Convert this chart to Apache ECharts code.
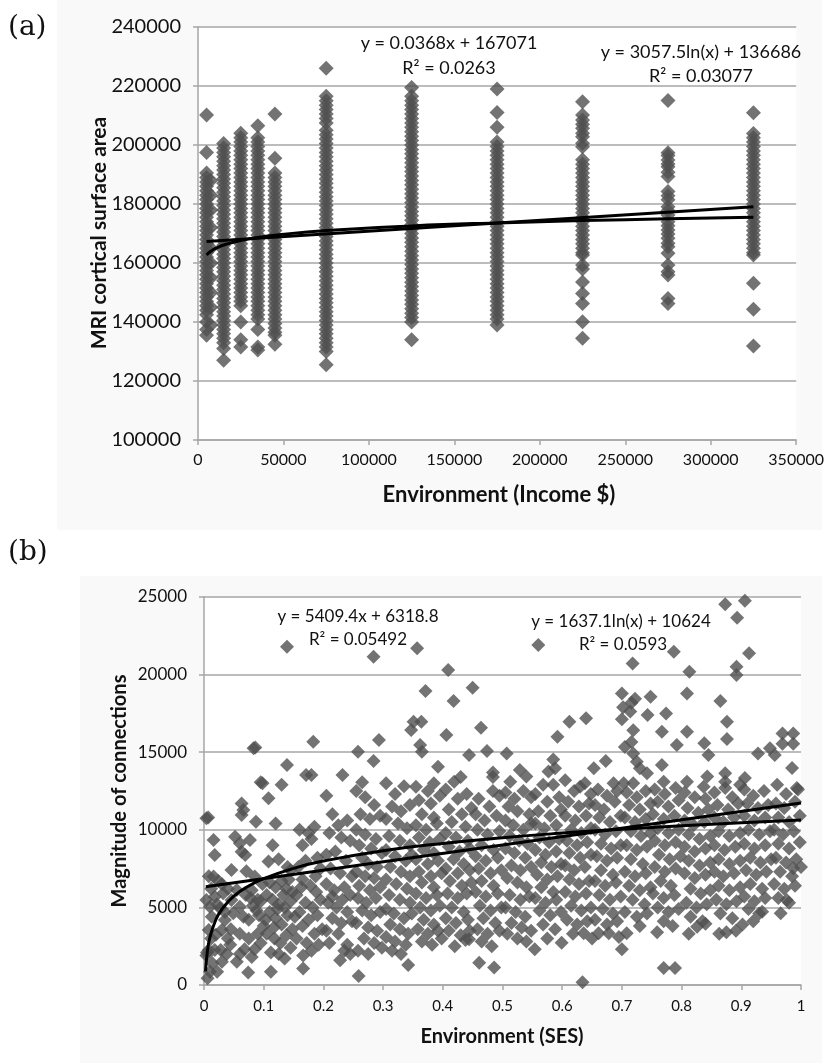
<!DOCTYPE html>
<html>
<head>
<meta charset="utf-8">
<script src="https://cdn.jsdelivr.net/npm/echarts@6/dist/echarts.min.js"></script>
<style>
html,body{margin:0;padding:0;background:#fff;}
#main{width:827px;height:1063px;}
</style>
</head>
<body>
<div id="main"></div>
<script>
// ---------- Panel (a): income vs cortical surface area ----------
const incomeLevels = [5000, 15000, 25000, 35000, 45000, 75000, 125000, 175000, 225000, 275000, 325000];
const area5k = [210200, 197500, 190500, 189000, 187500, 186000, 184500, 183000, 181500, 180000, 178500, 177000, 175500, 174000, 172500, 171000, 169500, 168000, 166500, 165000, 163500, 162000, 160500, 159000, 157500, 156000, 154500, 153000, 151500, 150000, 148500, 147000, 145500, 144000, 142500, 140000, 137500, 135500];
const area7k = [188000, 183000, 178000, 172000, 165000, 160000, 155000, 150000, 145000, 139000];
const area15k = [200500, 199000, 197500, 196000, 194500, 193000, 191500, 190000, 188500, 187000, 185500, 184000, 182500, 181000, 179500, 178000, 176500, 175000, 173500, 172000, 170500, 169000, 167500, 166000, 164500, 163000, 161500, 160000, 158500, 157000, 155500, 154000, 152500, 151000, 149500, 148000, 146500, 145000, 143500, 142000, 140500, 139000, 137500, 136000, 134500, 133000, 131000, 127000];
const area25k = [204000, 202500, 201000, 199500, 198000, 196500, 195000, 193500, 192000, 190500, 189000, 187500, 186000, 184500, 183000, 181500, 180000, 178500, 177000, 175500, 174000, 172500, 171000, 169500, 168000, 166500, 165000, 163500, 162000, 160500, 159000, 157500, 156000, 154500, 153000, 151500, 150000, 148500, 147000, 145500, 140000, 134000, 131500];
const area35k = [206500, 202500, 201000, 199500, 198000, 196500, 195000, 193500, 192000, 190500, 189000, 187500, 186000, 184500, 183000, 181500, 180000, 178500, 177000, 175500, 174000, 172500, 171000, 169500, 168000, 166500, 165000, 163500, 162000, 160500, 159000, 157500, 156000, 154500, 153000, 151500, 150000, 148500, 147000, 145500, 144000, 142500, 141000, 137500, 131500, 130500];
const area45k = [210500, 195500, 190500, 189000, 187500, 186000, 184500, 183000, 181500, 180000, 178500, 177000, 175500, 174000, 172500, 171000, 169500, 168000, 166500, 165000, 163500, 162000, 160500, 159000, 157500, 156000, 154500, 153000, 151500, 150000, 148500, 147000, 145500, 144000, 142500, 141000, 139500, 138000, 136500, 135500, 132500];
const area75k = [226000, 216500, 215000, 213500, 212000, 210500, 209000, 207500, 205000, 203500, 202000, 200500, 199000, 197500, 196000, 194500, 193000, 191500, 190000, 188500, 187000, 185500, 184000, 182500, 181000, 179500, 178000, 176500, 175000, 173500, 172000, 170500, 169000, 167500, 166000, 164500, 163000, 161500, 160000, 158500, 157000, 155500, 154000, 152500, 151000, 149500, 148000, 146500, 145000, 143500, 142000, 140500, 139000, 137500, 136000, 134500, 133000, 131500, 130000, 125500];
const area125k = [219500, 216500, 215000, 213500, 212000, 210500, 209000, 207500, 206000, 204500, 203000, 201500, 200000, 198500, 197000, 195500, 194000, 192500, 191000, 189500, 188000, 186500, 185000, 183500, 182000, 180500, 179000, 177500, 176000, 174500, 173000, 171500, 170000, 168500, 167000, 165500, 164000, 162500, 161000, 159500, 158000, 156500, 155000, 153500, 152000, 150500, 149000, 147500, 146000, 144500, 143000, 141500, 140000, 134000];
const area175k = [219000, 211000, 206000, 201000, 199500, 198000, 196500, 195000, 193500, 192000, 190500, 189000, 187500, 186000, 184500, 183000, 181500, 180000, 178500, 177000, 175500, 174000, 172500, 171000, 169500, 168000, 166500, 165000, 163500, 162000, 160500, 159000, 157500, 156000, 154500, 153000, 151500, 150000, 148500, 147000, 145500, 144000, 142500, 141000, 139000];
const area225k = [214700, 210200, 208500, 207000, 205700, 204000, 202800, 200600, 199400, 195000, 193500, 192000, 190500, 189000, 187500, 186000, 184500, 183000, 181500, 180000, 178500, 177000, 175500, 174000, 172500, 171000, 169500, 168000, 166500, 165000, 163500, 162700, 159300, 158000, 153600, 149700, 146300, 140100, 134500];
const area275k = [215100, 197400, 196400, 194900, 193600, 192600, 190800, 189300, 184200, 182800, 181400, 179100, 177800, 176300, 174000, 172600, 171200, 169800, 168400, 166700, 165500, 163300, 159300, 157000, 155900, 148000, 146300];
const area325k = [210900, 203900, 202500, 201000, 199500, 198000, 196500, 195000, 193500, 192000, 190500, 189000, 187500, 186000, 184500, 183000, 181500, 180000, 178500, 177000, 175500, 174000, 172500, 171000, 169500, 168000, 166500, 165000, 163500, 162700, 153100, 144300, 131900];

// trend lines of panel (a)
const incomeLinX = [5000, 325000];
const incomeLinY = [167255, 179031];
const incomeLogX = [5000, 7500, 10000, 15000, 25000, 35000, 45000, 75000, 125000, 175000, 225000, 275000, 325000];
const incomeLogY = [162727, 163967, 164846, 166087, 167648, 168677, 169446, 171006, 172568, 173597, 174365, 174979, 175489];

const incomeTicksY = [100000, 240000, 20000];
const incomeTicksX = [0, 350000, 50000];

// ---------- Panel (b): SES vs magnitude of connections ----------
const sesConnA = [
[0.004,10740],[0.007,10800],[0.016,9340],[0.018,8380],[0.005,2100],[0.004,5480],[0.018,5690],[0.032,5910],[0.010,5040],[0.027,4940],
[0.013,4400],[0.035,4190],[0.016,6990],[0.024,6700],[0.046,7410],[0.046,5480],[0.049,4620],[0.008,3540],[0.020,3240],[0.030,3540],
[0.012,3000],[0.008,2250],[0.018,2250],[0.028,2250],[0.004,1900],[0.014,1400],[0.010,860],[0.022,860],[0.006,430],[0.040,3000],
[0.038,2000],[0.044,2600],[0.030,1500],[0.022,5200],[0.040,6200],[0.030,6500],[0.012,6200],[0.035,4700],[0.045,3600],[0.008,7000],
[0.052,9560],[0.060,9130],[0.077,9340],[0.063,8590],[0.069,8380],[0.063,11700],[0.066,11280],[0.063,10950],[0.087,10520],[0.071,7330],
[0.085,6990],[0.055,6120],[0.060,5040],[0.066,4400],[0.080,6100],[0.090,5500],[0.082,5100],[0.095,5400],[0.092,4500],[0.075,4200],
[0.060,3300],[0.075,3000],[0.090,3300],[0.068,2300],[0.085,2300],[0.060,2000],[0.074,800],[0.055,1500],[0.083,15250],[0.086,15300],
[0.095,13060],[0.100,3800],[0.098,6500],[0.078,5600],[0.088,4800],[0.070,5800],[0.095,2700],[0.080,1800],[0.098,13000],
[0.139,21800],[0.139,14170],[0.130,12900],[0.108,12030],[0.120,10400],[0.115,9000],[0.125,8100],[0.140,7600],[0.145,7400],[0.108,7950],
[0.110,6600],[0.120,6300],[0.130,6700],[0.138,6200],[0.148,6000],[0.105,5800],[0.115,5500],[0.125,5200],[0.135,5000],[0.145,5400],
[0.110,4700],[0.120,4300],[0.130,3900],[0.140,4500],[0.148,3600],[0.105,3300],[0.118,3000],[0.128,2700],[0.138,3200],[0.145,2400],
[0.112,2100],[0.125,2000],[0.135,1700],[0.112,860],[0.123,4900],[0.133,5800],[0.142,6800],[0.103,4200],[0.117,3700],
[0.171,13530],[0.180,13530],[0.183,15680],[0.160,10000],[0.165,9000],[0.175,9800],[0.185,10200],[0.180,9400],[0.190,8200],[0.170,8000],
[0.158,7600],[0.195,7500],[0.165,6800],[0.178,6400],[0.188,6000],[0.155,5800],[0.170,5300],[0.182,5000],[0.195,5500],[0.160,4700],
[0.175,4200],[0.190,4500],[0.165,3800],[0.185,3300],[0.155,3000],[0.172,2700],[0.192,2600],[0.166,1900],[0.180,2200],[0.166,1070],
[0.198,3600],[0.152,4400],[0.187,7000],[0.163,6300],
[0.232,13530],[0.205,12200],[0.215,11000],[0.225,10300],[0.240,10600],[0.210,9800],[0.230,9500],[0.245,9300],[0.205,8400],[0.220,8600],
[0.238,8000],[0.212,7500],[0.228,7200],[0.248,7000],[0.205,6500],[0.218,6100],[0.235,6300],[0.245,5800],[0.208,5300],[0.222,5000],
[0.240,4700],[0.215,4300],[0.230,4000],[0.248,4100],[0.205,3500],[0.225,3300],[0.240,2600],[0.235,2200],[0.245,2000],[0.210,2700],
[0.228,1600],[0.215,5700],[0.232,5500]
];
const sesConnB = [
[0.284,21150],[0.258,15030],[0.293,15790],[0.284,14430],[0.265,13060],[0.255,12500],[0.270,12100],[0.285,11600],[0.262,11000],[0.278,10700],
[0.295,10900],[0.255,10000],[0.270,9700],[0.288,9400],[0.260,9000],[0.280,8800],[0.298,8500],[0.265,8200],[0.275,7800],[0.290,7600],
[0.255,7300],[0.270,7000],[0.285,6900],[0.260,6400],[0.278,6100],[0.295,6300],[0.258,5600],[0.272,5300],[0.288,5600],[0.265,4800],
[0.280,4500],[0.295,4700],[0.255,4000],[0.275,3700],[0.290,3500],[0.268,3000],[0.285,2700],[0.258,2200],[0.275,2000],[0.259,580],[0.298,2400],
[0.347,16430],[0.305,13000],[0.320,12300],[0.335,12800],[0.315,11500],[0.330,11200],[0.345,11600],[0.305,10700],[0.325,10400],[0.340,10100],
[0.310,9600],[0.328,9300],[0.345,9000],[0.305,8700],[0.320,8300],[0.338,8000],[0.348,8400],[0.312,7600],[0.330,7300],[0.345,7000],
[0.305,6800],[0.322,6500],[0.340,6200],[0.310,5800],[0.328,5500],[0.345,5300],[0.305,4900],[0.318,4600],[0.335,4300],[0.348,4600],
[0.312,3900],[0.328,3600],[0.342,3300],[0.305,3100],[0.320,2800],[0.338,2600],[0.342,1290],[0.315,2200],[0.330,2000],
[0.357,21690],[0.371,18940],[0.351,16970],[0.364,16970],[0.362,15460],[0.365,15030],[0.392,14070],[0.355,12780],[0.375,12500],[0.385,13000],
[0.360,11900],[0.380,11700],[0.395,12200],[0.365,11000],[0.385,10800],[0.355,10300],[0.372,10000],[0.390,10400],[0.360,9500],[0.378,9200],
[0.395,9400],[0.368,8700],[0.385,8500],[0.355,8100],[0.375,7800],[0.392,8000],[0.360,7300],[0.380,7000],[0.398,7200],[0.365,6600],
[0.385,6300],[0.355,5900],[0.372,5600],[0.390,5800],[0.362,5000],[0.380,4800],[0.395,5100],[0.368,4200],[0.385,3900],[0.358,3600],
[0.375,3300],[0.392,3500],[0.365,2800],[0.382,2600],[0.398,3000],
[0.409,20300],[0.418,18300],[0.406,16110],[0.419,13100],[0.444,14820],[0.430,13400],[0.405,12600],[0.425,12000],[0.440,12300],[0.410,11300],
[0.432,11000],[0.448,11400],[0.415,10500],[0.438,10200],[0.405,9800],[0.422,9500],[0.442,9300],[0.410,8900],[0.428,8600],[0.445,8800],
[0.418,8100],[0.435,7800],[0.405,7500],[0.425,7200],[0.445,7400],[0.412,6700],[0.432,6400],[0.448,6600],[0.408,5900],[0.425,5600],
[0.440,5900],[0.415,5000],[0.435,4700],[0.405,4300],[0.422,4000],[0.442,4200],[0.410,3500],[0.430,3200],[0.445,3500],[0.420,2500],[0.438,2900],
[0.450,19150],[0.464,16580],[0.474,15080],[0.484,13700],[0.484,13400],[0.484,12500],[0.461,1440],[0.486,1120],
[0.460,12000],[0.478,11500],[0.495,12200],[0.455,11000],[0.470,10600],[0.490,10900],[0.458,10000],[0.475,9700],[0.495,9900],[0.465,9000],
[0.485,8700],[0.455,8300],[0.472,8000],[0.492,8200],[0.460,7500],[0.480,7200],[0.498,7400],[0.465,6700],[0.485,6400],[0.455,6000],
[0.472,5700],[0.492,5900],[0.462,5100],[0.480,4800],[0.498,5000],[0.468,4300],[0.488,4000],[0.458,3600],[0.475,3300],[0.495,3500],
[0.465,2800],[0.482,2500],[0.444,2940]
];
const sesConnC = [
[0.507,14920],[0.513,13100],[0.529,13860],[0.540,13440],[0.505,12400],[0.520,12000],[0.535,12500],[0.548,12100],[0.510,11500],[0.525,11200],
[0.545,11000],[0.505,10600],[0.518,10300],[0.535,10000],[0.548,10400],[0.512,9600],[0.528,9300],[0.542,9100],[0.505,8800],[0.520,8500],
[0.538,8200],[0.515,7700],[0.530,7400],[0.548,7600],[0.508,6900],[0.525,6600],[0.540,6300],[0.512,5800],[0.530,5500],[0.545,5700],
[0.505,5000],[0.522,4700],[0.538,4400],[0.515,4000],[0.532,3700],[0.548,3500],[0.508,3300],[0.525,3000],[0.540,2800],
[0.560,21910],[0.592,16000],[0.585,14530],[0.588,13970],[0.577,13760],[0.568,12900],[0.585,12900],[0.555,12300],[0.575,11800],[0.595,12100],
[0.560,11200],[0.580,10900],[0.598,11300],[0.555,10400],[0.570,10100],[0.590,10300],[0.562,9500],[0.578,9200],[0.595,9400],[0.555,8700],
[0.572,8400],[0.590,8600],[0.565,7900],[0.582,7600],[0.598,7800],[0.558,7100],[0.575,6800],[0.592,7000],[0.565,6300],[0.585,6000],
[0.555,5600],[0.572,5300],[0.590,5500],[0.562,4800],[0.580,4500],[0.598,4700],[0.568,3900],[0.588,3600],[0.554,2300],[0.599,2730],[0.575,3000],
[0.612,16970],[0.640,17180],[0.630,12780],[0.605,13200],[0.620,12500],[0.638,13000],[0.648,12300],[0.610,11800],[0.628,11500],[0.645,11700],
[0.605,10900],[0.622,10600],[0.640,10900],[0.615,10000],[0.632,9800],[0.648,10100],[0.608,9300],[0.625,9000],[0.642,9200],[0.612,8500],
[0.630,8200],[0.648,8400],[0.605,7700],[0.620,7400],[0.638,7600],[0.612,6800],[0.628,6500],[0.645,6700],[0.605,6000],[0.622,5700],
[0.640,5900],[0.615,5100],[0.632,4800],[0.648,5000],[0.608,4200],[0.625,3900],[0.642,4100],[0.618,3300],[0.636,3330],[0.634,170],[0.650,3000],
[0.673,14430],[0.653,13960],[0.686,13000],[0.660,12600],[0.675,12200],[0.692,12500],[0.655,11600],[0.670,11300],[0.688,11800],[0.662,10800],
[0.680,10500],[0.698,10900],[0.655,10000],[0.672,9700],[0.690,9900],[0.665,9100],[0.682,8800],[0.698,9000],[0.658,8300],[0.675,8000],
[0.692,8200],[0.665,7400],[0.685,7100],[0.655,6700],[0.672,6400],[0.690,6600],[0.662,5800],[0.680,5500],[0.698,5700],[0.668,4900],
[0.685,4600],[0.655,4200],[0.675,3900],[0.692,4100],[0.661,3330],[0.678,3330],[0.695,3100],[0.700,2300],
[0.718,20720],[0.700,18790],[0.748,18580],[0.722,18450],[0.716,18180],[0.702,17900],[0.714,17630],[0.700,17120],[0.743,17400],[0.719,16410],
[0.716,15650],[0.705,15330],[0.719,14920],[0.725,14380],[0.730,13960],[0.742,13640],[0.703,13000],[0.719,13000],[0.708,12400],[0.725,12100],
[0.740,12500],[0.712,11600],[0.730,11300],[0.748,11700],[0.705,10800],[0.722,10500],[0.740,10700],[0.715,9900],[0.732,9600],[0.748,9800],
[0.708,9000],[0.725,8700],[0.742,8900],[0.715,8100],[0.735,7800],[0.705,7300],[0.722,7000],[0.740,7200],[0.712,6400],[0.730,6100],
[0.748,6300],[0.718,5500],[0.738,5200],[0.705,4700],[0.725,4400],[0.742,4600],[0.708,3330],[0.730,3800]
];
const sesConnD = [
[0.774,17500],[0.767,16320],[0.792,15460],[0.767,14180],[0.770,13100],[0.787,21480],[0.755,12600],[0.772,12300],[0.790,12700],[0.760,11800],
[0.778,11500],[0.795,11900],[0.752,11000],[0.770,10700],[0.788,10900],[0.760,10100],[0.778,9800],[0.795,10000],[0.755,9300],[0.772,9000],
[0.790,9200],[0.762,8400],[0.780,8100],[0.798,8300],[0.755,7600],[0.772,7300],[0.790,7500],[0.765,6700],[0.782,6400],[0.752,5900],
[0.770,5600],[0.788,5800],[0.760,5000],[0.778,4700],[0.795,4900],[0.759,3400],[0.770,4100],[0.770,1100],[0.789,1100],[0.785,3800],
[0.813,20190],[0.809,18790],[0.809,16320],[0.838,15570],[0.845,14820],[0.809,13100],[0.843,13440],[0.837,12780],[0.805,12400],[0.822,12100],
[0.840,12000],[0.810,11400],[0.828,11100],[0.845,11300],[0.805,10600],[0.820,10300],[0.838,10500],[0.812,9700],[0.830,9400],[0.848,9600],
[0.805,8900],[0.822,8600],[0.840,8800],[0.812,8000],[0.830,7700],[0.848,7900],[0.805,7200],[0.822,6900],[0.840,7100],[0.815,6200],
[0.832,5900],[0.848,6100],[0.808,5300],[0.825,5000],[0.842,5200],[0.815,4400],[0.835,4100],[0.812,3300],[0.826,3750],[0.840,3950],
[0.873,24530],[0.893,23670],[0.892,20510],[0.892,19970],[0.865,18300],[0.876,16970],[0.876,15850],[0.873,13650],[0.873,13100],[0.873,12700],
[0.898,12900],[0.855,12400],[0.885,12100],[0.860,11600],[0.878,11300],[0.895,11700],[0.855,10800],[0.870,10500],[0.888,10800],[0.862,9900],
[0.880,9600],[0.898,9800],[0.855,9000],[0.872,8700],[0.890,8900],[0.862,8100],[0.880,7800],[0.898,8000],[0.855,7300],[0.870,7000],
[0.888,7200],[0.862,6400],[0.880,6100],[0.898,6300],[0.858,5500],[0.875,5200],[0.892,5400],[0.865,4600],[0.885,4300],[0.863,3300],
[0.875,3400],[0.891,3500],
[0.906,24760],[0.913,21370],[0.948,15250],[0.928,14920],[0.906,13330],[0.905,12600],[0.920,12200],[0.938,12500],[0.910,11700],[0.928,11400],
[0.945,11600],[0.905,10900],[0.922,10600],[0.940,10800],[0.912,10000],[0.930,9700],[0.948,9900],[0.905,9100],[0.922,8800],[0.940,9000],
[0.915,8200],[0.932,7900],[0.950,8100],[0.908,7400],[0.925,7100],[0.942,7300],[0.915,6500],[0.935,6200],[0.905,5700],[0.922,5400],
[0.940,5600],[0.912,4900],[0.930,4600],[0.902,3900],[0.935,4720],[0.920,4100],
[0.969,16200],[0.987,16200],[0.969,15550],[0.987,15550],[0.956,14820],[0.985,13980],[0.993,12700],[0.960,12900],[0.975,12300],[0.995,12600],
[0.958,11700],[0.972,11400],[0.990,11800],[0.962,10800],[0.980,10500],[0.998,10900],[0.955,10000],[0.970,9700],[0.988,9900],[0.962,9100],
[0.980,8800],[0.998,9200],[0.958,8200],[0.975,7900],[0.992,8100],[0.965,7300],[0.985,7000],[0.955,6500],[0.972,6200],[0.990,6400],
[0.962,5600],[0.980,5300],[0.966,4620],[0.976,5480],[0.987,7520],[1.0,7600]
];

// trend lines of panel (b)
const sesLinX = [0.003, 1];
const sesLinY = [6335, 11728];
const sesLogX = [0.0026, 0.005, 0.01, 0.02, 0.03, 0.05, 0.075, 0.1, 0.15, 0.2, 0.3, 0.4, 0.5, 0.6, 0.7, 0.8, 0.9, 1];
const sesLogY = [880, 1950, 3085, 4220, 4883, 5720, 6383, 6854, 7518, 7989, 8653, 9124, 9489, 9788, 10040, 10259, 10452, 10624];

const sesTicksY = [0, 25000, 5000];
const sesTicksX = [0, 1, 0.1];

// ---------- build ----------
const pairs = (xs, ys) => xs.map((x, i) => [x, ys[i]]);
const column = (x, vals) => vals.map(v => [x, v]);
const incomeColumns = [area5k, area15k, area25k, area35k, area45k, area75k, area125k, area175k, area225k, area275k, area325k];
let incomeData = [];
incomeColumns.forEach((vals, i) => { incomeData = incomeData.concat(column(incomeLevels[i], vals)); });
incomeData = incomeData.concat(column(7500, area7k));
const sesData = [].concat(sesConnA, sesConnB, sesConnC, sesConnD);

const GRID = '#a6a6a6';
const TXT = '#111111';
const FONT = 'Lato, "Open Sans", sans-serif';
const plain = v => String(Math.round(v * 1000) / 1000);

function axisCommon(extra) {
  return Object.assign({
    type: 'value',
    axisLine: { show: true, onZero: false, lineStyle: { color: GRID, width: 1.5 } },
    axisTick: { show: true, length: 5, lineStyle: { color: GRID, width: 1.5 } },
    splitLine: { show: false },
  }, extra);
}

const markerStyle = { color: '#505050' };
const eq = (x, y, text, size) => ({ type: 'text', x: x, y: y, style: { text: text, font: size + 'px Lato', fill: TXT, textAlign: 'center', textVerticalAlign: 'middle' } });

const option = {
  animation: false,
  backgroundColor: '#ffffff',
  grid: [
    { left: 198, top: 27, width: 602, height: 413, show: true, backgroundColor: '#ffffff', borderWidth: 0 },
    { left: 204, top: 597, width: 597, height: 388, show: true, backgroundColor: '#ffffff', borderWidth: 0 }
  ],
  xAxis: [
    axisCommon({ gridIndex: 0, min: incomeTicksX[0], max: incomeTicksX[1], interval: incomeTicksX[2],
      axisLabel: { fontSize: 16, color: TXT, margin: 12, fontFamily: FONT, formatter: plain } }),
    axisCommon({ gridIndex: 1, min: sesTicksX[0], max: sesTicksX[1], interval: sesTicksX[2],
      axisLabel: { fontSize: 15, color: TXT, margin: 14, fontFamily: FONT, formatter: plain } })
  ],
  yAxis: [
    axisCommon({ gridIndex: 0, min: incomeTicksY[0], max: incomeTicksY[1], interval: incomeTicksY[2],
      splitLine: { show: true, lineStyle: { color: GRID, width: 1.5 } },
      axisLabel: { fontSize: 20, color: TXT, margin: 17, fontFamily: FONT, formatter: plain } }),
    axisCommon({ gridIndex: 1, min: sesTicksY[0], max: sesTicksY[1], interval: sesTicksY[2],
      splitLine: { show: true, lineStyle: { color: GRID, width: 1.5 } },
      axisLabel: { fontSize: 17, color: TXT, margin: 17, fontFamily: FONT, formatter: plain } })
  ],
  series: [
    { type: 'scatter', xAxisIndex: 0, yAxisIndex: 0, data: incomeData, symbol: 'diamond', symbolSize: 15, itemStyle: markerStyle, z: 2 },
    { type: 'line', xAxisIndex: 0, yAxisIndex: 0, data: pairs(incomeLinX, incomeLinY), symbol: 'none', lineStyle: { color: '#000', width: 3 }, z: 5 },
    { type: 'line', xAxisIndex: 0, yAxisIndex: 0, data: pairs(incomeLogX, incomeLogY), smooth: true, symbol: 'none', lineStyle: { color: '#000', width: 3 }, z: 5 },
    { type: 'scatter', xAxisIndex: 1, yAxisIndex: 1, data: sesData, symbol: 'diamond', symbolSize: 14, itemStyle: markerStyle, z: 2 },
    { type: 'line', xAxisIndex: 1, yAxisIndex: 1, data: pairs(sesLinX, sesLinY), symbol: 'none', lineStyle: { color: '#000', width: 3 }, z: 5 },
    { type: 'line', xAxisIndex: 1, yAxisIndex: 1, data: pairs(sesLogX, sesLogY), smooth: true, symbol: 'none', lineStyle: { color: '#000', width: 3 }, z: 5 }
  ],
  graphic: [
    { type: 'rect', z: -10, silent: true, shape: { x: 57, y: 0, width: 765, height: 530 }, style: { fill: '#f9f9f9' } },
    { type: 'rect', z: -10, silent: true, shape: { x: 80, y: 576, width: 742, height: 487 }, style: { fill: '#f9f9f9' } },
    { type: 'text', x: 8, y: 28, style: { text: '(a)', font: '28px "DejaVu Serif"', fill: '#111', textVerticalAlign: 'middle' } },
    { type: 'text', x: 8, y: 553, style: { text: '(b)', font: '28px "DejaVu Serif"', fill: '#111', textVerticalAlign: 'middle' } },
    { type: 'text', x: 99, y: 233, rotation: Math.PI / 2, style: { text: 'MRI cortical surface area', font: 'bold 21px Lato', fill: TXT, textAlign: 'center', textVerticalAlign: 'middle' } },
    { type: 'text', x: 499, y: 495, style: { text: 'Environment (Income $)', font: 'bold 22px Lato', fill: TXT, textAlign: 'center', textVerticalAlign: 'middle' } },
    { type: 'text', x: 120, y: 791, rotation: Math.PI / 2, style: { text: 'Magnitude of connections', font: 'bold 20px Lato', fill: TXT, textAlign: 'center', textVerticalAlign: 'middle' } },
    { type: 'text', x: 502, y: 1037, style: { text: 'Environment (SES)', font: 'bold 20px Lato', fill: TXT, textAlign: 'center', textVerticalAlign: 'middle' } },
    eq(449, 43, 'y = 0.0368x + 167071', 18),
    eq(449, 68, 'R² = 0.0263', 18),
    eq(701, 52, 'y = 3057.5ln(x) + 136686', 18),
    eq(701, 76, 'R² = 0.03077', 18),
    eq(358, 617, 'y = 5409.4x + 6318.8', 17),
    eq(358, 640, 'R² = 0.05492', 17),
    eq(621, 622, 'y = 1637.1ln(x) + 10624', 17),
    eq(623, 645, 'R² = 0.0593', 17)
  ]
};

const chart = echarts.init(document.getElementById('main'), null, { renderer: 'canvas', width: 827, height: 1063 });
chart.setOption(option);
</script>
</body>
</html>
